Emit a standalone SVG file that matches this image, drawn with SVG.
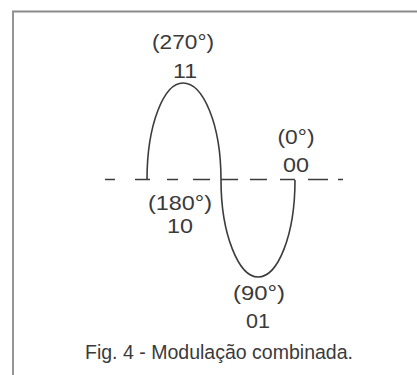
<svg xmlns="http://www.w3.org/2000/svg" width="417" height="375" viewBox="0 0 417 375">
<style>
.t{font-family:"Liberation Sans",Arial,sans-serif;font-size:20.5px;fill:#3a3a3a;text-anchor:middle}
.ln{fill:none;stroke:#3c3c3c;stroke-width:1.6}
</style>
<rect width="417" height="375" fill="#ffffff"/>
<g id="frame">
<path d="M13,375 V11.5 H417" fill="none" stroke="#8a8a8a" stroke-width="1.8"/>
</g>
<g id="axis">
<path class="ln" d="M105,179.5 h10 M135,179.5 h15 M167,179.5 h11 M193,179.5 h17 M221,179.5 h17 M250,179.5 h17 M280,179.5 h15 M308,179.5 h20 M338,179.5 h5"/>
</g>
<g id="wave">
<path class="ln" d="M147,180 C147,124 164,83 183,83 C203,83 221,124 221,180 C221,235 239,277 258,277 C278,277 295,235 295,180"/>
</g>
<g id="labels">
<text class="t" x="183" y="48.5" textLength="62" lengthAdjust="spacingAndGlyphs">(270°)</text>
<text class="t" x="185" y="78" textLength="24" lengthAdjust="spacingAndGlyphs">11</text>
<text class="t" x="296" y="143.5" textLength="37" lengthAdjust="spacingAndGlyphs">(0°)</text>
<text class="t" x="296" y="172" textLength="26" lengthAdjust="spacingAndGlyphs">00</text>
<text class="t" x="180" y="209.5" textLength="64" lengthAdjust="spacingAndGlyphs">(180°)</text>
<text class="t" x="180" y="233" textLength="26" lengthAdjust="spacingAndGlyphs">10</text>
<text class="t" x="259" y="299.5" textLength="52" lengthAdjust="spacingAndGlyphs">(90°)</text>
<text class="t" x="258" y="328" textLength="24" lengthAdjust="spacingAndGlyphs">01</text>
<text class="t" x="219" y="359" font-size="21" textLength="268" lengthAdjust="spacingAndGlyphs">Fig. 4 - Modulação combinada.</text>
</g>
</svg>
